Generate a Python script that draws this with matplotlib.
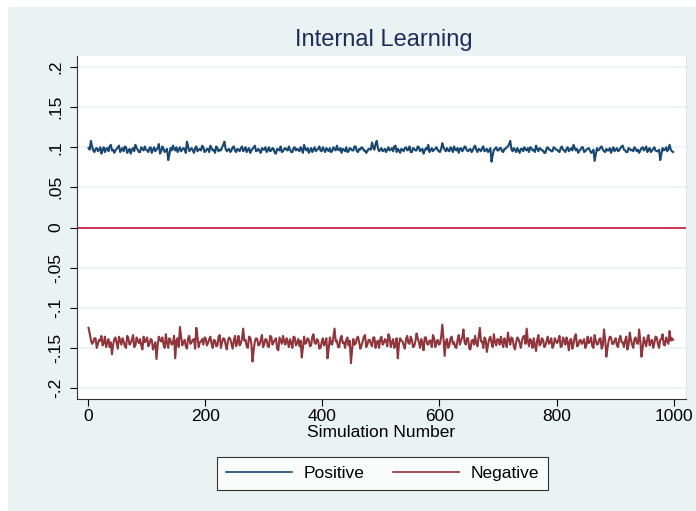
import numpy as np
import matplotlib
matplotlib.use("Agg")
import matplotlib.pyplot as plt
from matplotlib.patches import Rectangle

plt.rcParams['font.family'] = ['Liberation Sans', 'DejaVu Sans']

# Simulation numbers (two interleaved sets)
sim_a = np.arange(1, 1001, 4)
sim_b = np.arange(3, 1001, 4)

# Values, in thousandths
positive_a = [
    99, 108, 96, 98, 95, 100, 97, 94, 99, 101, 96, 93, 98, 102, 97, 95, 100, 96, 92, 99, 103, 97, 94, 98, 101,
    96, 99, 93, 100, 97, 104, 95, 98, 96, 84, 99, 102, 96, 94, 100, 97, 98, 107, 95, 99, 93, 101, 97, 96, 100,
    95, 98, 102, 96, 93, 99, 97, 100, 107, 95, 98, 96, 101, 94, 97, 99, 95, 100, 97, 93, 98, 102, 96, 95, 99,
    97, 94, 100, 96, 98, 92, 97, 101, 95, 99, 96, 97, 94, 100, 98, 95, 97, 103, 96, 93, 99, 97, 95, 98, 96,
    100, 94, 97, 99, 95, 98, 102, 96, 93, 97, 100, 95, 98, 96, 101, 94, 97, 99, 96, 95, 98, 106, 97, 108, 95,
    99, 96, 94, 100, 97, 95, 102, 98, 93, 97, 99, 96, 101, 94, 98, 96, 100, 97, 92, 99, 103, 96, 95, 98, 97,
    94, 105, 97, 99, 95, 98, 101, 96, 93, 99, 97, 100, 95, 98, 96, 102, 94, 97, 99, 95, 98, 96, 82, 97, 100,
    96, 99, 94, 98, 101, 108, 95, 97, 99, 93, 98, 100, 96, 94, 99, 97, 102, 95, 98, 96, 93, 100, 97, 95, 99,
    97, 94, 101, 96, 98, 95, 99, 103, 96, 93, 97, 100, 95, 98, 96, 94, 83, 99, 97, 101, 95, 98, 96, 93, 100,
    97, 95, 99, 102, 96, 94, 98, 97, 100, 95, 93, 99, 96, 101, 97, 94, 98, 96, 95, 84, 99, 97, 95, 103, 95,
]
positive_b = [
    97, 101, 94, 99, 97, 92, 100, 98, 95, 103, 97, 96, 100, 94, 99, 101, 93, 98, 97, 95, 99, 94, 100, 96, 97,
    94, 100, 97, 95, 99, 92, 101, 94, 98, 91, 96, 98, 100, 97, 95, 99, 93, 101, 97, 96, 99, 95, 98, 102, 94,
    98, 94, 99, 97, 101, 95, 96, 103, 98, 97, 94, 100, 96, 98, 95, 101, 97, 94, 99, 96, 100, 95, 98, 93, 97,
    100, 96, 95, 99, 93, 98, 96, 94, 98, 97, 101, 94, 99, 96, 97, 100, 93, 98, 99, 96, 94, 100, 97, 101, 95,
    97, 99, 95, 94, 100, 96, 97, 99, 98, 95, 94, 99, 96, 101, 95, 98, 100, 96, 93, 98, 97, 100, 104, 99, 97,
    95, 98, 97, 96, 99, 101, 94, 96, 98, 95, 100, 97, 94, 99, 96, 101, 95, 98, 96, 97, 94, 99, 97, 100, 95,
    98, 100, 95, 96, 100, 94, 97, 99, 98, 95, 101, 96, 97, 94, 100, 97, 98, 95, 101, 96, 94, 99, 90, 98, 96,
    99, 95, 98, 100, 104, 97, 99, 94, 96, 98, 95, 97, 99, 100, 96, 94, 98, 99, 96, 93, 99, 97, 95, 100, 97,
    95, 99, 97, 94, 100, 97, 96, 99, 98, 96, 100, 94, 97, 99, 93, 97, 91, 96, 100, 97, 94, 96, 99, 97, 95,
    99, 96, 101, 97, 94, 99, 96, 95, 98, 97, 96, 100, 98, 94, 99, 96, 100, 95, 97, 92, 96, 100, 98, 97, 94,
]

negative_a = [
    -125, -140, -143, -138, -145, -141, -147, -136, -143, -149, -158, -139, -144, -136, -146, -142, -150, -138, -144, -134, -147, -141, -139, -152, -143,
    -137, -145, -140, -148, -164, -136, -142, -146, -133, -150, -141, -144, -163, -138, -124, -147, -140, -151, -135, -143, -139, -125, -149, -142, -146,
    -138, -144, -136, -150, -141, -147, -134, -143, -139, -152, -137, -145, -141, -148, -135, -144, -126, -140, -150, -137, -167, -142, -139, -146, -134,
    -145, -140, -149, -136, -143, -138, -153, -141, -135, -146, -142, -139, -150, -137, -144, -148, -162, -136, -143, -140, -147, -133, -145, -141, -150,
    -138, -144, -163, -137, -146, -126, -141, -149, -135, -143, -140, -147, -169, -139, -145, -136, -151, -142, -134, -146, -140, -148, -137, -143, -150,
    -136, -144, -141, -133, -149, -139, -146, -163, -138, -142, -151, -135, -145, -140, -148, -132, -143, -139, -153, -137, -146, -141, -134, -149, -140,
    -145, -121, -160, -139, -147, -136, -143, -150, -134, -141, -127, -146, -138, -152, -140, -135, -148, -125, -142, -137, -155, -139, -144, -133, -147,
    -140, -136, -149, -143, -131, -146, -139, -152, -137, -144, -141, -135, -126, -148, -142, -138, -154, -134, -145, -140, -147, -136, -143, -150, -138,
    -144, -135, -148, -141, -137, -153, -139, -145, -133, -147, -140, -143, -150, -136, -142, -148, -134, -146, -139, -151, -127, -161, -141, -137, -145,
    -138, -149, -135, -143, -141, -152, -131, -146, -139, -144, -127, -161, -137, -148, -134, -142, -150, -136, -145, -140, -133, -147, -141, -129, -138,
]
negative_b = [
    -132, -145, -138, -150, -140, -135, -144, -149, -139, -143, -146, -137, -151, -141, -138, -148, -135, -146, -140, -149, -137, -144, -147, -136, -141,
    -148, -139, -152, -143, -147, -140, -137, -150, -144, -138, -146, -135, -141, -149, -136, -143, -148, -138, -145, -140, -151, -136, -143, -139, -137,
    -147, -139, -145, -140, -148, -136, -150, -138, -146, -141, -139, -151, -135, -143, -147, -139, -141, -148, -136, -145, -152, -138, -147, -140, -149,
    -139, -148, -135, -146, -140, -151, -137, -145, -142, -138, -149, -144, -136, -147, -139, -141, -150, -145, -138, -148, -136, -144, -139, -151, -143,
    -147, -138, -151, -145, -136, -142, -149, -138, -144, -150, -137, -141, -152, -146, -138, -143, -147, -136, -149, -140, -145, -137, -150, -141, -139,
    -146, -139, -148, -137, -143, -150, -138, -145, -141, -147, -139, -144, -136, -149, -142, -138, -150, -144, -137, -145, -141, -149, -138, -143, -146,
    -136, -139, -142, -150, -138, -145, -149, -140, -146, -137, -143, -138, -151, -141, -146, -144, -137, -142, -150, -140, -146, -136, -149, -143, -139,
    -146, -143, -138, -149, -140, -137, -148, -143, -139, -150, -136, -145, -141, -139, -150, -146, -140, -147, -138, -149, -141, -145, -138, -147, -142,
    -140, -149, -137, -146, -143, -140, -151, -136, -148, -141, -145, -139, -147, -144, -137, -150, -141, -145, -138, -147, -140, -150, -136, -145, -141,
    -147, -139, -143, -149, -136, -146, -140, -150, -137, -145, -141, -150, -143, -138, -147, -140, -144, -137, -150, -139, -146, -137, -145, -141, -140,
]

sim = np.column_stack((sim_a, sim_b)).ravel()
positive = np.column_stack((positive_a, positive_b)).ravel() / 1000.0
negative = np.column_stack((negative_a, negative_b)).ravel() / 1000.0

yticks = [0.2, 0.15, 0.1, 0.05, 0, -0.05, -0.1, -0.15, -0.2]
ytick_labels = ['.2', '.15', '.1', '.05', '0', '-.05', '-.1', '-.15', '-.2']
xticks = [0, 200, 400, 600, 800, 1000]

bg = '#EAF2F3'
W, H = 696, 511
fig = plt.figure(figsize=(W / 100, H / 100), dpi=100)
fig.patch.set_facecolor('white')
fig.patches.append(Rectangle((8 / W, 0), 1 - 8 / W, 1 - 7 / H, transform=fig.transFigure,
                             facecolor=bg, edgecolor='none', zorder=-10))

ax = fig.add_axes([77 / W, 1 - 399 / H, (686 - 77) / W, (399 - 56) / H])
ax.set_facecolor('white')

for y in yticks:
    ax.axhline(y, color=bg, lw=1.2, zorder=0)
ax.axhline(0, color='#C8143C', lw=1.2, zorder=1)

ax.plot(sim, positive, color='#1A476F', lw=1.5, label='Positive', zorder=3)
ax.plot(sim, negative, color='#90353B', lw=1.5, label='Negative', zorder=3)

ax.set_xlim(-18.7, 1021)
ax.set_ylim(-0.2137, 0.2137)
ax.set_yticks(yticks)
ax.set_yticklabels(ytick_labels, rotation=90, va='center')
ax.set_xticks(xticks)
ax.tick_params(axis='y', length=5, width=0.8, pad=5, labelsize=12.5, colors='black')
ax.tick_params(axis='x', length=5, width=0.8, pad=2, labelsize=12.5, colors='black')

ax.spines['top'].set_visible(False)
ax.spines['right'].set_color('#DDE6E8')
ax.spines['left'].set_color('#333333')
ax.spines['bottom'].set_color('#333333')

ax.set_xlabel('Simulation Number', fontsize=12.5, labelpad=1)
fig.text(384 / W, 1 - 40 / H, 'Internal Learning', ha='center', va='center',
         fontsize=17, color='#1E2D5A')

leg = fig.legend(loc='center', bbox_to_anchor=(382.5 / W, 1 - 473.5 / H), ncol=2,
                 fontsize=12.5, frameon=True, fancybox=False, edgecolor='black',
                 handlelength=3.8, handletextpad=0.7, columnspacing=1.6,
                 borderpad=0.5)
leg.get_frame().set_linewidth(0.8)
for line in leg.get_lines():
    line.set_linewidth(1.2)

fig.savefig('out.png', dpi=100, facecolor=fig.get_facecolor())
